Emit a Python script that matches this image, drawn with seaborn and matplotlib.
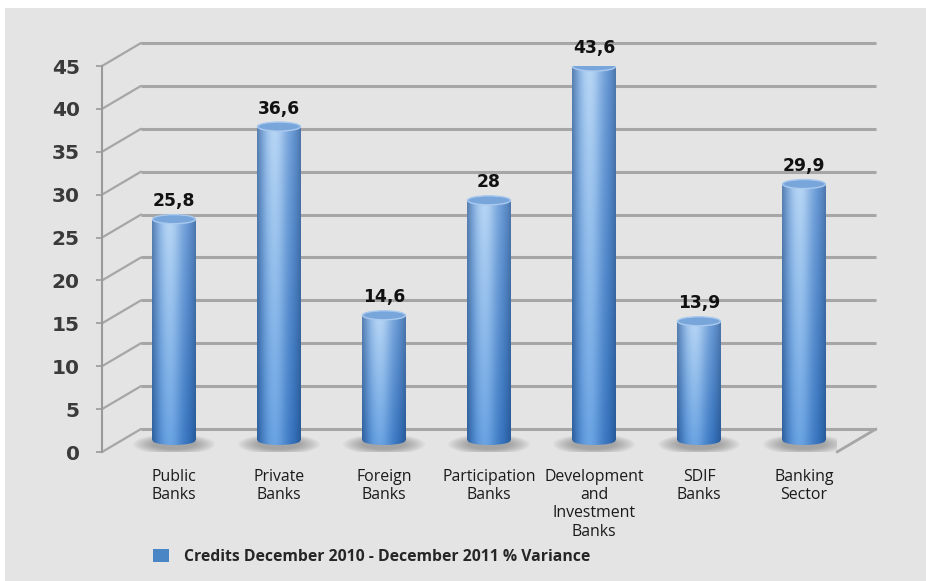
import numpy as np
import pandas as pd
import matplotlib
matplotlib.use("Agg")
import matplotlib.pyplot as plt
import seaborn as sns
from matplotlib.transforms import ScaledTranslation
from matplotlib.patches import Ellipse, Rectangle, ConnectionPatch, Patch
from matplotlib.colors import to_rgb

# ---- data -------------------------------------------------------------
categories = ["Public\nBanks", "Private\nBanks", "Foreign\nBanks",
              "Participation\nBanks", "Development\nand\nInvestment\nBanks",
              "SDIF\nBanks", "Banking\nSector"]
values = [25.8, 36.6, 14.6, 28.0, 43.6, 13.9, 29.9]
value_labels = ["25,8", "36,6", "14,6", "28", "43,6", "13,9", "29,9"]
y_ticks = [0, 5, 10, 15, 20, 25, 30, 35, 40, 45]
series_name = "Credits December 2010 - December 2011 % Variance"

df = pd.DataFrame({"category": categories, "value": values})

# ---- figure -----------------------------------------------------------
sns.set_theme(style="white")
plt.rcParams["font.family"] = ["DejaVu Sans"]

W, H, DPI = 926, 581, 100
fig = plt.figure(figsize=(W / DPI, H / DPI), dpi=DPI, facecolor="white")
# grey panel behind the chart
fig.patches.append(Rectangle((5 / W, 0), 1 - 5 / W, 1 - 8 / H,
                             transform=fig.transFigure, facecolor="#e4e4e4",
                             edgecolor="none", zorder=-10))

# axes = front plane of the pseudo-3D box
ax = fig.add_axes([102 / W, (H - 452) / H, (837 - 102) / W, (452 - 66) / H])
ax.set_facecolor("none")
ax.set_zorder(1)

# depth offsets (in pixels) for the bar plane and the back wall
mid_off = ScaledTranslation(19.5 / DPI, 11.5 / DPI, fig.dpi_scale_trans)
back_off = ScaledTranslation(39 / DPI, 23 / DPI, fig.dpi_scale_trans)
t_mid = ax.transData + mid_off
t_back = ax.transData + back_off

bar_w = 0.41
sns.barplot(data=df, x="category", y="value", width=bar_w, color="#4a86c5",
            ax=ax, zorder=3)

n = len(categories)
x_lo, x_hi = -0.5, n - 0.5

# ---- back wall grid and side slants ----------------------------------
grid_c = "#a6a6a6"
ax.hlines(y_ticks, x_lo, x_hi, transform=t_back, colors=grid_c, lw=2.2,
          zorder=1, clip_on=False)
for v in y_ticks:
    cp = ConnectionPatch((x_lo, v), (x_lo, v), coordsA=ax.transData,
                         coordsB=t_back, color=grid_c, lw=1.6, zorder=1)
    ax.add_artist(cp)
cp = ConnectionPatch((x_hi, 0), (x_hi, 0), coordsA=ax.transData,
                     coordsB=t_back, color=grid_c, lw=2.0, zorder=1)
ax.add_artist(cp)

# ---- cylinder bars ----------------------------------------------------
def lerp(a, b, t):
    a, b = np.array(to_rgb(a)), np.array(to_rgb(b))
    return a + (b - a) * t

nu, nt = 80, 120
u = np.linspace(0, 1, nu)
prof = np.exp(-((u - 0.40) / 0.30) ** 2)
edge_dark = np.clip(1 - 4 * (np.minimum(u, 1 - u)), 0, 1) ** 2

ell_h = 1.05           # cylinder cap height (data units)
for patch, v in zip(ax.patches, values):
    x0 = patch.get_x()
    w = patch.get_width()
    xc = x0 + w / 2
    patch.set_transform(t_mid)
    patch.set_facecolor("none")
    patch.set_edgecolor("none")

    # soft shadow on the floor
    for k in range(10):
        sh = Ellipse((xc, -0.45), width=w * (1.0 + 0.10 * k),
                     height=ell_h * (1.1 + 0.13 * k), transform=t_mid,
                     facecolor="#5a5a5a", edgecolor="none", alpha=0.055,
                     zorder=2)
        ax.add_patch(sh)

    # body gradient: light highlight left of centre, lighter toward the top
    img = np.zeros((nt, nu, 3))
    for i, t in enumerate(np.linspace(1, 0, nt)):
        dark = lerp("#2f6cb8", "#5d90d0", t)
        light = lerp("#6aa3e2", "#b6d5f4", t)
        row = dark[None, :] + (light - dark)[None, :] * prof[:, None]
        row = row * (1 - 0.18 * edge_dark[:, None])
        img[i] = np.clip(row, 0, 1)

    bottom = Ellipse((xc, 0), width=w, height=ell_h, transform=t_mid,
                     facecolor="none", edgecolor="none")
    ax.add_patch(bottom)
    for clip in (patch, bottom):
        im = ax.imshow(img, extent=(x0, x0 + w, -ell_h / 2, v),
                       transform=t_mid, aspect="auto", zorder=3,
                       interpolation="bilinear")
        im.set_clip_path(clip)

    cap = Ellipse((xc, v), width=w, height=ell_h, transform=t_mid,
                  facecolor="#78a5da", edgecolor="#a9c9ef", lw=1.0, zorder=4)
    ax.add_patch(cap)

# value labels above each bar
for i, (v, lab) in enumerate(zip(values, value_labels)):
    ax.annotate(lab, xy=(i, v), xycoords=t_mid, xytext=(0, 6.5),
                textcoords="offset points", ha="center", va="bottom",
                fontsize=12.3, fontweight="bold", color="#111111",
                family="DejaVu Sans", zorder=5)

# ---- axes cosmetics ---------------------------------------------------
ax.set_xlim(x_lo, x_hi)
ax.set_ylim(0, 45)
ax.set_xlabel("")
ax.set_ylabel("")
for s in ("top", "right", "bottom"):
    ax.spines[s].set_visible(False)
ax.spines["left"].set_color("#9a9a9a")
ax.spines["left"].set_linewidth(1.5)
ax.spines["left"].set_zorder(1)

ax.set_yticks(y_ticks)
ax.set_yticklabels([str(t) for t in y_ticks])
ax.tick_params(axis="y", left=True, length=4, width=1.2, color="#9a9a9a",
               pad=12, labelsize=14.5, labelcolor="#3a3a3a")
for lab in ax.get_yticklabels():
    lab.set_fontweight("bold")

ax.set_xticks(range(n))
ax.set_xticklabels(categories, family="Open Sans", fontsize=11.4,
                   color="#1a1a1a", linespacing=1.2)
ax.tick_params(axis="x", bottom=False, length=0, pad=12)
x_shift = ScaledTranslation(19.5 / DPI, 0, fig.dpi_scale_trans)
for lab in ax.get_xticklabels():
    lab.set_transform(lab.get_transform() + x_shift)

# legend
fig.legend(handles=[Patch(facecolor="#4a86c5", edgecolor="none")],
           labels=[series_name], loc="center left",
           bbox_to_anchor=(153 / W, 1 - 557 / H), frameon=False,
           handlelength=1.0, handleheight=0.85, handletextpad=1.0,
           borderpad=0, borderaxespad=0,
           prop={"family": "Open Sans", "weight": "bold", "size": 11.3})

fig.savefig("out.png", dpi=DPI, facecolor="white")
